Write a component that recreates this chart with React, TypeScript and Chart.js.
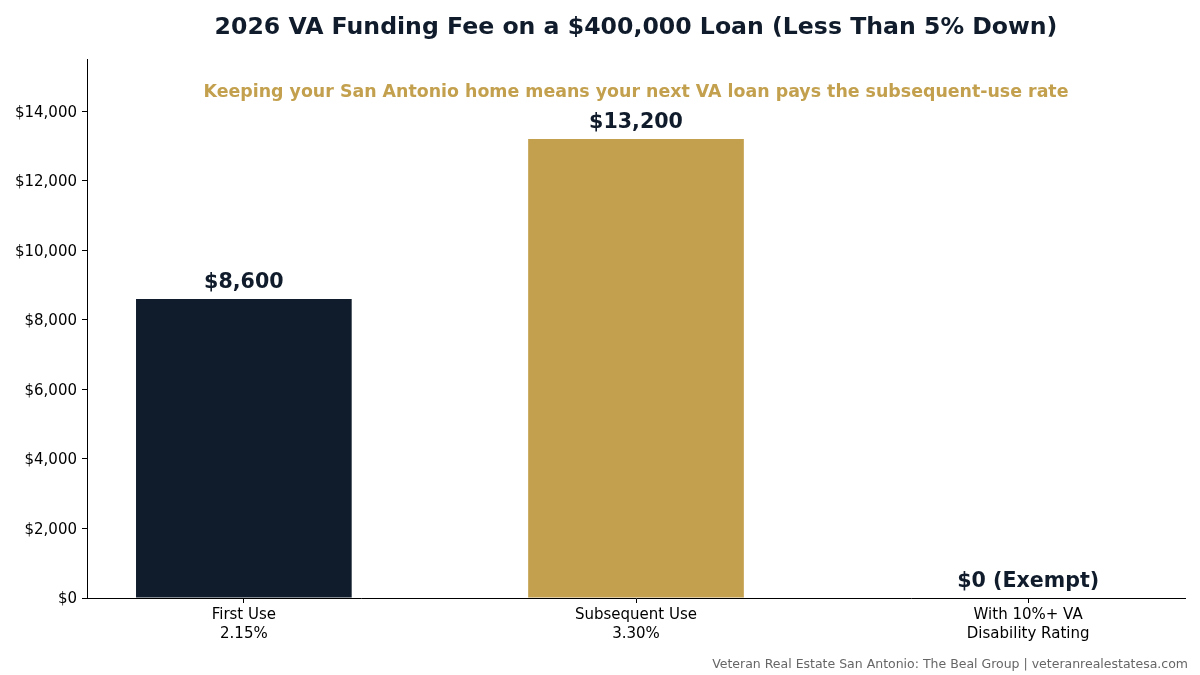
import React, { useEffect, useRef } from "react";
import { Chart, registerables } from "chart.js";

Chart.register(...registerables);

const categories: string[][] = [
  ["First Use", "2.15%"],
  ["Subsequent Use", "3.30%"],
  ["With 10%+ VA", "Disability Rating"],
];
const feeValues: number[] = [8600, 13200, 0];
const valueLabels: string[] = ["$8,600", "$13,200", "$0 (Exempt)"];
const barColors: string[] = ["#101c2b", "#c3a04d", "#c3a04d"];
const yTicks: number[] = [0, 2000, 4000, 6000, 8000, 10000, 12000, 14000];

const TITLE = "2026 VA Funding Fee on a $400,000 Loan (Less Than 5% Down)";
const SUBTITLE = "Keeping your San Antonio home means your next VA loan pays the subsequent-use rate";
const FOOTER = "Veteran Real Estate San Antonio: The Beal Group | veteranrealestatesa.com";

const NAVY = "#101c2b";
const GOLD = "#c3a04d";
const FONT = "'DejaVu Sans', sans-serif";

export default function App() {
  const ref = useRef<HTMLCanvasElement | null>(null);

  useEffect(() => {
    if (!ref.current) return;
    const textPlugin = {
      id: "texts",
      afterDraw(chart: any) {
        const ctx = chart.ctx;
        const xs = chart.scales.x;
        const ys = chart.scales.y;
        const ca = chart.chartArea;
        const cx = (ca.left + ca.right) / 2;
        ctx.save();
        ctx.textAlign = "center";
        ctx.textBaseline = "middle";
        ctx.fillStyle = NAVY;
        ctx.font = `bold 23.6px ${FONT}`;
        ctx.fillText(TITLE, cx, 28);
        ctx.fillStyle = GOLD;
        ctx.font = `bold 17.4px ${FONT}`;
        ctx.fillText(SUBTITLE, cx, 92);
        ctx.fillStyle = NAVY;
        ctx.font = `bold 20.6px ${FONT}`;
        ctx.textBaseline = "bottom";
        feeValues.forEach((v, i) => {
          ctx.fillText(valueLabels[i], xs.getPixelForValue(i), ys.getPixelForValue(v) - 6);
        });
        ctx.textAlign = "right";
        ctx.textBaseline = "middle";
        ctx.fillStyle = "#666666";
        ctx.font = `12.5px ${FONT}`;
        ctx.fillText(FOOTER, 1188, 665);
        ctx.restore();
      },
    };

    const chart = new Chart(ref.current, {
      type: "bar",
      data: {
        datasets: [
          {
            data: feeValues.map((v, i) => ({ x: i, y: v })),
            backgroundColor: barColors,
            borderWidth: 0,
            barPercentage: 0.55,
            categoryPercentage: 1,
          },
        ],
      },
      options: {
        responsive: false,
        animation: false,
        devicePixelRatio: 1,
        layout: { padding: { top: 59, right: 15, left: 0, bottom: 0 } },
        plugins: { legend: { display: false }, tooltip: { enabled: false }, title: { display: false } },
        scales: {
          x: {
            type: "linear",
            min: -0.4,
            max: 2.4,
            offset: false,
            afterBuildTicks: (s: any) => {
              s.ticks = categories.map((_, i) => ({ value: i }));
            },
            afterFit: (s: any) => {
              s.height = 77;
            },
            grid: { display: true, offset: false, drawOnChartArea: false, drawTicks: true, tickLength: 5, color: "#000000" },
            border: { display: true, color: "#000000", width: 1 },
            ticks: {
              padding: 3,
              color: "#000000",
              font: { family: FONT, size: 15, lineHeight: 1.25 },
              maxRotation: 0,
              autoSkip: false,
              callback: (v: any) => categories[Math.round(Number(v))] ?? "",
            },
          },
          y: {
            min: 0,
            max: 15500,
            afterBuildTicks: (s: any) => {
              s.ticks = yTicks.map((v) => ({ value: v }));
            },
            afterFit: (s: any) => {
              s.width = 87;
            },
            grid: { display: true, drawOnChartArea: false, drawTicks: true, tickLength: 5, color: "#000000" },
            border: { display: true, color: "#000000", width: 1 },
            ticks: {
              padding: 5,
              labelOffset: 1.5,
              color: "#000000",
              font: { family: FONT, size: 15 },
              callback: (v: any) => "$" + Number(v).toLocaleString("en-US"),
            },
          },
        },
      },
      plugins: [textPlugin],
    } as any);
    return () => chart.destroy();
  }, []);

  return (
    <div style={{ position: "absolute", left: 0, top: 0, width: 1200, height: 675, background: "#ffffff" }}>
      <canvas ref={ref} width={1200} height={675} />
    </div>
  );
}
